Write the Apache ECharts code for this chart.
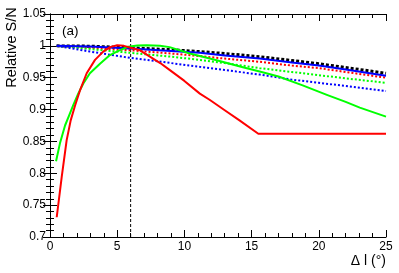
<!DOCTYPE html>
<html>
<head>
<meta charset="utf-8">
<script src="https://cdn.jsdelivr.net/npm/echarts@6/dist/echarts.min.js"></script>
<style>
html,body{margin:0;padding:0;background:#fff;}
#c{width:399px;height:273px;}
</style>
</head>
<body>
<div id="c"></div>
<script>
// ---- data ----
const xTicks = [0, 5, 10, 15, 20, 25];
const yTicks = [0.7, 0.75, 0.8, 0.85, 0.9, 0.95, 1, 1.05];
const cutX = 6;

const redSolidX = [0.5,0.87,1.24,1.54,1.86,2.23,2.73,3.35,3.96,4.46,5.0,5.5,6.0,6.7,7.43,8.2,8.92,10.0,11.15,11.9,13.0,14.1,15.5,25];
const redSolidY = [0.731,0.794,0.852,0.883,0.906,0.930,0.957,0.978,0.991,0.998,1.001,1.0,0.997,0.993,0.983,0.973,0.962,0.945,0.925,0.915,0.899,0.883,0.862,0.862];

const greenSolidX = [0.45,0.74,1.12,1.41,1.73,2.1,2.48,2.97,3.72,4.46,5.2,5.82,6.5,7.2,8.18,8.9,10.4,12.4,14.35,15.6,17,18.8,20.6,22,23.05,25];
const greenSolidY = [0.819,0.847,0.875,0.890,0.907,0.925,0.941,0.957,0.972,0.9855,0.9934,0.9986,1.0005,1.001,1.0,0.998,0.988,0.9775,0.9665,0.9597,0.952,0.938,0.923,0.912,0.903,0.889];

const lineX = [0.5,3,6,9,11.15,13,15.6,18,20,22,25];
const blueSolidY  = [1.0,0.999,0.996,0.992,0.989,0.985,0.980,0.974,0.969,0.963,0.953];
const blackDotY   = [1.0,0.9995,0.997,0.994,0.991,0.988,0.983,0.977,0.972,0.966,0.957];
const redDotY     = [1.0,0.997,0.993,0.988,0.984,0.980,0.975,0.969,0.965,0.959,0.950];
const greenDotY   = [1.0,0.995,0.989,0.983,0.978,0.973,0.965,0.959,0.954,0.949,0.942];
const blueDotY    = [1.0,0.991,0.981,0.973,0.967,0.962,0.955,0.947,0.942,0.937,0.929];

const xTitle = 'Δ l (°)';
const yTitle = 'Relative S/N';
const panelLabel = '(a)';

// ---- build ----
const pairs = (xs, ys) => xs.map((x, i) => [x, ys[i]]);
const FONT = '"Liberation Sans", Arial, Helvetica, sans-serif';

function mkLine(name, xs, ys, color, width, type, z) {
  return {
    name, type: 'line', data: pairs(xs, ys), showSymbol: false, symbol: 'none',
    smooth: false, z: z || 2, animation: false,
    lineStyle: { color, width, type, cap: 'butt', join: 'round' }
  };
}

const xCommon = {
  type: 'value', min: xTicks[0], max: xTicks[xTicks.length - 1], interval: 5,
  axisLine: { show: true, lineStyle: { color: '#000', width: 1 } },
  axisTick: { show: true, inside: true, length: 7, lineStyle: { color: '#000' } },
  minorTick: { show: true, splitNumber: 5, length: 4, lineStyle: { color: '#000' } },
  splitLine: { show: false }, minorSplitLine: { show: false }
};
const yCommon = {
  type: 'value', min: yTicks[0], max: yTicks[yTicks.length - 1], interval: 0.05,
  axisLine: { show: true, lineStyle: { color: '#000', width: 1 } },
  axisTick: { show: true, inside: true, length: 7, lineStyle: { color: '#000' } },
  minorTick: { show: true, splitNumber: 5, length: 4, lineStyle: { color: '#000' } },
  splitLine: { show: false }, minorSplitLine: { show: false }
};

const chart = echarts.init(document.getElementById('c'), null, { renderer: 'canvas' });
chart.setOption({
  animation: false,
  backgroundColor: '#fff',
  grid: { left: 50, right: 13, top: 14, bottom: 36, containLabel: false },
  xAxis: [
    Object.assign({}, xCommon, { position: 'bottom',
      axisLabel: { show: true, color: '#000', fontSize: 12, fontFamily: FONT, margin: 4,
        formatter: v => String(+v.toFixed(2)) } }),
    Object.assign({}, xCommon, { position: 'top', axisLabel: { show: false } })
  ],
  yAxis: [
    Object.assign({}, yCommon, { position: 'left',
      axisLabel: { show: true, color: '#000', fontSize: 12, fontFamily: FONT, margin: 4,
        formatter: v => String(+v.toFixed(2)) } }),
    Object.assign({}, yCommon, { position: 'right', axisLabel: { show: false } })
  ],
  series: [
    { type: 'line', data: [[cutX, yTicks[0]], [cutX, yTicks[yTicks.length - 1]]],
      showSymbol: false, symbol: 'none', z: 1,
      lineStyle: { color: '#000', width: 1, type: [3, 2] } },
    mkLine('blackDot', lineX, blackDotY, '#000000', 3, [3, 2], 2),
    mkLine('redDot', lineX, redDotY, '#ff0000', 2, [2, 2], 2),
    mkLine('greenDot', lineX, greenDotY, '#00ff00', 2, [2, 2], 2),
    mkLine('blueDot', lineX, blueDotY, '#0000ff', 2, [2, 2], 2),
    mkLine('blueSolid', lineX, blueSolidY, '#0000ff', 2, 'solid', 3),
    mkLine('greenSolid', greenSolidX, greenSolidY, '#00ff00', 2, 'solid', 3),
    mkLine('redSolid', redSolidX, redSolidY, '#ff0000', 2, 'solid', 3)
  ],
  graphic: [
    { type: 'text', x: 12, y: 47.5, rotation: Math.PI / 2,
      style: { text: yTitle, fontSize: 14.5, fontFamily: FONT, fill: '#000',
        textAlign: 'center', textVerticalAlign: 'middle' } },
    { type: 'text', x: 386, y: 261.5,
      style: { text: xTitle, fontSize: 14, fontFamily: FONT, fill: '#000',
        textAlign: 'right', textVerticalAlign: 'middle' } },
    { type: 'text', x: 62, y: 31,
      style: { text: panelLabel, fontSize: 13.5, fontFamily: FONT, fill: '#000',
        textAlign: 'left', textVerticalAlign: 'middle' } }
  ]
});
</script>
</body>
</html>
